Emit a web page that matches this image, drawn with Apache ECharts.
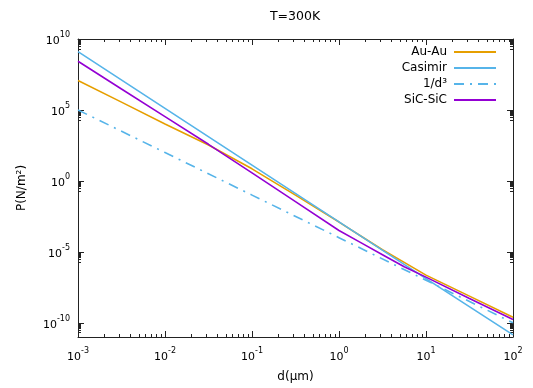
<!DOCTYPE html>
<html>
<head>
<meta charset="utf-8">
<script src="https://cdn.jsdelivr.net/npm/echarts@6/dist/echarts.min.js"></script>
<style>
  html, body { margin: 0; padding: 0; background: #fff; }
  #chart { width: 533px; height: 388px; }
</style>
</head>
<body>
<div id="chart"></div>
<script>
// separations d (μm) shared by the Lifshitz curves
const dLifshitz = [0.001, 0.00316, 0.01, 0.0316, 0.1, 0.316, 1, 1.78, 3.16, 5.62, 10, 31.6, 100]
const pAuAu = [1.2e7, 3.55e5, 1.02e4, 339, 7.1, 0.1, 1.26e-3, 1.32e-4, 1.41e-5, 1.8e-6, 2.29e-7, 7.6e-9, 2.5e-10]
const pSiCSiC = [2.7e8, 3.0e6, 3.4e4, 380, 3.7, 0.035, 3.2e-4, 4.5e-5, 6.3e-6, 8.9e-7, 1.66e-7, 5.2e-9, 1.7e-10]

// ideal Casimir and 1/d^3 reference lines
const dDecades = [0.001, 0.01, 0.1, 1, 10, 100]
const pCasimir = [1.3e9, 1.3e5, 13, 1.3e-3, 1.3e-7, 1.4e-11]
const pInvCube = [1e5, 100, 0.1, 1e-4, 1e-7, 1e-10]

const xMajorTicks = [0.001, 0.01, 0.1, 1, 10, 100]
const yMajorTicks = [1e-10, 1e-5, 1, 1e5, 1e10]
const xMinorTicks = []
for (const base of [0.001, 0.01, 0.1, 1, 10]) {
  for (let k = 2; k <= 9; k++) xMinorTicks.push(k * base)
}
const yMinorTicks = []
for (const base of [1e-11, 1e-6, 0.1, 1e4, 1e9]) {
  for (let k = 2; k <= 9; k++) yMinorTicks.push(k * base)
}

const FONT = 'DejaVu Sans'
const AXIS_COLOR = '#222'

const zip = (xs, ys) => xs.map((x, i) => [x, ys[i]])

function powLabel(v) {
  const e = Math.round(Math.log10(v))
  return '{b|10}{s|' + e + '}'
}

const richLabel = {
  b: { fontSize: 11, fontFamily: FONT, color: '#000', lineHeight: 16, verticalAlign: 'bottom' },
  s: { fontSize: 8, fontFamily: FONT, color: '#000', lineHeight: 16, verticalAlign: 'top' },
}

function xAxisOf(position, minor, labels) {
  return {
    type: 'log', logBase: 10, min: 0.001, max: 100, position,
    axisLine: { show: !minor, onZero: false, lineStyle: { color: AXIS_COLOR, width: 1 } },
    axisTick: {
      inside: true, length: minor ? 3 : 6,
      lineStyle: { color: AXIS_COLOR },
      customValues: minor ? xMinorTicks : xMajorTicks,
    },
    axisLabel: labels ? {
      customValues: xMajorTicks, margin: 10, formatter: powLabel, rich: richLabel,
    } : { show: false },
    splitLine: { show: false },
    minorTick: { show: false },
  }
}

function yAxisOf(position, minor, labels) {
  return {
    type: 'log', logBase: 10, min: 1e-11, max: 1e10, position,
    axisLine: { show: !minor, onZero: false, lineStyle: { color: AXIS_COLOR, width: 1 } },
    axisTick: {
      inside: true, length: minor ? 3 : 6,
      lineStyle: { color: AXIS_COLOR },
      customValues: minor ? yMinorTicks : yMajorTicks,
    },
    axisLabel: labels ? {
      customValues: yMajorTicks, margin: 8, formatter: powLabel, rich: richLabel,
    } : { show: false },
    splitLine: { show: false },
    minorTick: { show: false },
  }
}

const xMain = xAxisOf('bottom', false, true)
xMain.name = 'd(μm)'
xMain.nameLocation = 'middle'
xMain.nameGap = 34
xMain.nameTextStyle = { fontFamily: FONT, fontSize: 12, color: '#000' }

const yMain = yAxisOf('left', false, true)
yMain.name = 'P(N/m²)'
yMain.nameLocation = 'middle'
yMain.nameGap = 50
yMain.nameTextStyle = { fontFamily: FONT, fontSize: 12, color: '#000' }

const chart = echarts.init(document.getElementById('chart'))

chart.setOption({
  animation: false,
  backgroundColor: '#fff',
  title: {
    text: 'T=300K', left: 290, top: 5, textAlign: 'center',
    textStyle: { fontFamily: FONT, fontSize: 12.5, fontWeight: 'normal', color: '#000' },
  },
  grid: { left: 78, right: 20, top: 39, bottom: 50 },
  legend: {
    orient: 'vertical', right: 36, top: 44, padding: 0, align: 'right',
    itemWidth: 42, itemHeight: 14, itemGap: 0,
    itemStyle: { opacity: 0 },
    textStyle: { fontFamily: FONT, fontSize: 12, color: '#000', padding: [0, 2, 0, 0], lineHeight: 16 },
    data: ['Au-Au', 'Casimir', '1/d³', 'SiC-SiC'],
  },
  xAxis: [xMain, xAxisOf('top', false, false), xAxisOf('bottom', true, false), xAxisOf('top', true, false)],
  yAxis: [yMain, yAxisOf('right', false, false), yAxisOf('left', true, false), yAxisOf('right', true, false)],
  series: [
    {
      name: 'Au-Au', type: 'line', symbol: 'none', data: zip(dLifshitz, pAuAu),
      lineStyle: { color: '#E69F00', width: 1.6 }, itemStyle: { color: '#E69F00' },
    },
    {
      name: 'Casimir', type: 'line', symbol: 'none', data: zip(dDecades, pCasimir),
      lineStyle: { color: '#56B4E9', width: 1.6 }, itemStyle: { color: '#56B4E9' },
    },
    {
      name: '1/d³', type: 'line', symbol: 'none', data: zip(dDecades, pInvCube),
      lineStyle: { color: '#56B4E9', width: 1.6, type: [10, 6, 2, 6] }, itemStyle: { color: '#56B4E9' },
    },
    {
      name: 'SiC-SiC', type: 'line', symbol: 'none', data: zip(dLifshitz, pSiCSiC),
      lineStyle: { color: '#9400D3', width: 1.6 }, itemStyle: { color: '#9400D3' },
    },
  ],
})
</script>
</body>
</html>
